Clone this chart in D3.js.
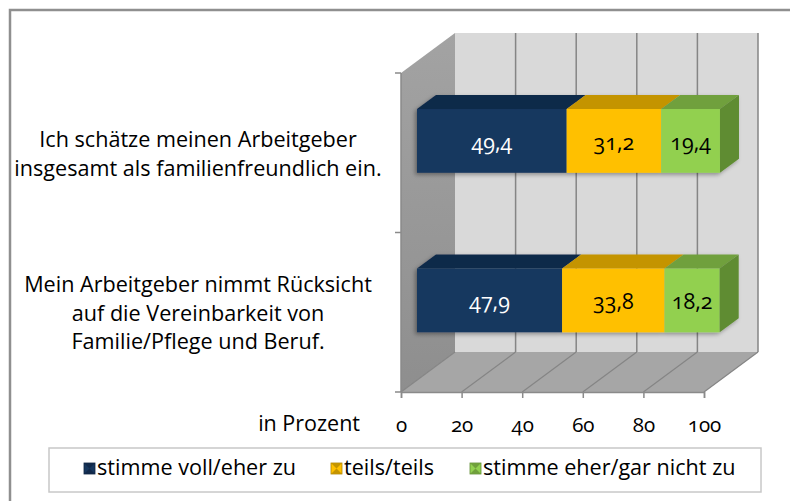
<!DOCTYPE html>
<html>
<head>
<meta charset="utf-8">
<script src="https://cdn.jsdelivr.net/npm/d3@7"></script>
<style>
  body { margin: 0; background: #fff; }
  text { font-family: "Open Sans", Lato, sans-serif; }
  .num { font-family: "Open Sans", Lato, sans-serif; font-feature-settings: "onum" 1; font-variant-numeric: oldstyle-nums; }
</style>
</head>
<body>
<svg id="chart"></svg>
<script>
// Daten
const categories = ["Ich schätze meinen Arbeitgeber insgesamt als familienfreundlich ein.",
  "Mein Arbeitgeber nimmt Rücksicht auf die Vereinbarkeit von Familie/Pflege und Beruf."];
const categoryLines = [
  ["Ich schätze meinen Arbeitgeber", "insgesamt als familienfreundlich ein."],
  ["Mein Arbeitgeber nimmt Rücksicht", "auf die Vereinbarkeit von", "Familie/Pflege und Beruf."]
];
const seriesNames = ["stimme voll/eher zu", "teils/teils", "stimme eher/gar nicht zu"];
const vollEherZu = [49.4, 47.9];
const teilsTeils = [31.2, 33.8];
const eherGarNicht = [19.4, 18.2];
const xTicks = [0, 20, 40, 60, 80, 100];
const axisTitle = "in Prozent";

const width = 790, height = 501;
const svg = d3.select("#chart").attr("width", width).attr("height", height);

// 3D Tiefe (Excel-Stil)
const depth = { dx: 54, dy: -40 };
const barFront = 0.296, barBack = 0.648;
const x = d3.scaleLinear().domain([0, 100]).range([401, 704]);
const y = d3.scaleBand().domain(d3.range(categories.length)).range([73, 392])
  .paddingInner(0.6).paddingOuter(0.3);
const yTop = 73, yBot = 392;
const P = (v, yy, f) => [x(v) + f * depth.dx, yy + f * depth.dy];
const poly = pts => pts.map(p => p.join(",")).join(" ");

// Rahmen
svg.append("rect").attr("x", 10).attr("y", 10).attr("width", 800).attr("height", 520)
  .attr("fill", "#fff").attr("stroke", "#8f8f8f").attr("stroke-width", 2.5);

const defs = svg.append("defs");
const lw = defs.append("linearGradient").attr("id", "leftwall").attr("x1", 0).attr("y1", 0).attr("x2", 0).attr("y2", 1);
lw.append("stop").attr("offset", 0).attr("stop-color", "#a3a3a3");
lw.append("stop").attr("offset", 1).attr("stop-color", "#8e8e8e");
const sh = defs.append("filter").attr("id", "shadow").attr("x", -0.2).attr("y", -0.3).attr("width", 1.4).attr("height", 1.6);
sh.append("feDropShadow").attr("dx", -2).attr("dy", 2).attr("stdDeviation", 2).attr("flood-color", "#000").attr("flood-opacity", 0.35);

const walls = svg.append("g");
// Seitenwand links
walls.append("polygon").attr("points", poly([P(0, yTop, 0), P(0, yTop, 1), P(0, yBot, 1), P(0, yBot, 0)]))
  .attr("fill", "url(#leftwall)");
// Rückwand
walls.append("polygon").attr("points", poly([P(0, yTop, 1), P(100, yTop, 1), P(100, yBot, 1), P(0, yBot, 1)]))
  .attr("fill", "#d9d9d9");
// Boden
walls.append("polygon").attr("points", poly([P(0, yBot, 0), P(100, yBot, 0), P(100, yBot, 1), P(0, yBot, 1)]))
  .attr("fill", "#a6a6a6");

// Gitterlinien
xTicks.forEach(t => {
  if (t > 0) {
    walls.append("line").attr("x1", P(t, yTop, 1)[0]).attr("y1", P(t, yTop, 1)[1])
      .attr("x2", P(t, yBot, 1)[0]).attr("y2", P(t, yBot, 1)[1])
      .attr("stroke", "#858585").attr("stroke-width", 1.5);
  }
  walls.append("line").attr("x1", P(t, yBot, 0)[0]).attr("y1", P(t, yBot, 0)[1])
    .attr("x2", P(t, yBot, 1)[0]).attr("y2", P(t, yBot, 1)[1])
    .attr("stroke", "#858585").attr("stroke-width", 1.2);
});

// Achsen
const xAxis = svg.append("g").attr("transform", `translate(0,${yBot})`)
  .call(d3.axisBottom(x).tickValues(xTicks).tickSize(6).tickPadding(19));
xAxis.select(".domain").attr("stroke", "#8a8a8a").attr("stroke-width", 1.5);
xAxis.selectAll(".tick line").attr("stroke", "#8a8a8a").attr("stroke-width", 1.5);
xAxis.selectAll(".tick text").attr("class", "num").attr("font-size", 20.5).attr("fill", "#000")
  .style("font-family", "'Open Sans', sans-serif");

svg.append("line").attr("x1", x(0)).attr("x2", x(0)).attr("y1", yTop).attr("y2", yBot)
  .attr("stroke", "#8a8a8a").attr("stroke-width", 1.5);
const catTicks = [yTop, ...d3.range(1, categories.length).map(i => y(i) - y.step() * y.paddingInner() / 2), yBot];
svg.selectAll(".ctick").data(catTicks).join("line")
  .attr("x1", x(0) - 6).attr("x2", x(0)).attr("y1", d => d).attr("y2", d => d)
  .attr("stroke", "#8a8a8a").attr("stroke-width", 1.5);

svg.append("text").attr("x", 360).attr("y", 431).attr("text-anchor", "end")
  .attr("font-size", 21.5).text(axisTitle);

// Kategorien-Beschriftung
categoryLines.forEach((lines, i) => {
  const cy = y(i) + y.bandwidth() / 2;
  const lh = 28.5;
  const t = svg.append("text").attr("text-anchor", "middle").attr("font-size", 21.6).attr("fill", "#000");
  lines.forEach((l, j) => {
    t.append("tspan").attr("x", 198).attr("y", cy + 8.5 + (j - (lines.length - 1) / 2) * lh).text(l);
  });
});

// Balken
const series = [
  { name: seriesNames[0], values: vollEherZu, front: "#17375e", top: "#11294a", side: "#0f2440", text: "#fff" },
  { name: seriesNames[1], values: teilsTeils, front: "#ffc000", top: "#c49400", side: "#b08400", text: "#000" },
  { name: seriesNames[2], values: eherGarNicht, front: "#92d050", top: "#70a03c", side: "#5f8c32", text: "#000" }
];
const stacked = d3.stack().keys(d3.range(series.length))
  .value((d, k) => series[k].values[d])(d3.range(categories.length));

const bars = svg.append("g").attr("filter", "url(#shadow)");
categories.forEach((c, i) => {
  const y0 = y(i), y1 = y(i) + y.bandwidth();
  const g = bars.append("g");
  stacked.forEach((layer, k) => {
    const [v0, v1] = layer[i];
    const s = series[k];
    // Oberseite
    g.append("polygon").attr("points", poly([P(v0, y0, barFront), P(v1, y0, barFront), P(v1, y0, barBack), P(v0, y0, barBack)]))
      .attr("fill", s.top);
    // Vorderseite
    const a = P(v0, y0, barFront), b = P(v1, y1, barFront);
    g.append("rect").attr("x", a[0]).attr("y", a[1]).attr("width", b[0] - a[0]).attr("height", b[1] - a[1])
      .attr("fill", s.front);
    if (k === stacked.length - 1) {
      g.append("polygon").attr("points", poly([P(v1, y0, barFront), P(v1, y0, barBack), P(v1, y1, barBack), P(v1, y1, barFront)]))
        .attr("fill", s.side);
    }
  });
});

// Werte
const labels = svg.append("g");
categories.forEach((c, i) => {
  const yc = y(i) + y.bandwidth() / 2 + barFront * depth.dy;
  stacked.forEach((layer, k) => {
    const [v0, v1] = layer[i];
    const xc = (x(v0) + x(v1)) / 2 + barFront * depth.dx;
    labels.append("text").attr("class", "num").attr("x", xc).attr("y", yc + 9)
      .attr("text-anchor", "middle").attr("font-size", 21.5).attr("fill", series[k].text)
      .text(d3.format(".1f")(series[k].values[i]).replace(".", ","));
  });
});

// Legende
const leg = svg.append("g");
leg.append("rect").attr("x", 49).attr("y", 448).attr("width", 712).attr("height", 44)
  .attr("fill", "#fff").attr("stroke", "#c8c8c8").attr("stroke-width", 1.5);
const legX = [84, 331, 470];
series.forEach((s, k) => {
  const gx = legX[k], gy = 463;
  leg.append("rect").attr("x", gx).attr("y", gy).attr("width", 11).attr("height", 11).attr("fill", s.front)
    .attr("stroke", s.side).attr("stroke-width", 0.8);
  leg.append("polygon").attr("points", poly([[gx, gy], [gx + 11, gy], [gx + 5.5, gy + 5.5]])).attr("fill", s.top);
  leg.append("polygon").attr("points", poly([[gx, gy + 11], [gx + 11, gy + 11], [gx + 5.5, gy + 5.5]])).attr("fill", s.top);
  leg.append("text").attr("x", gx + 13).attr("y", gy + 12).attr("font-size", 21.6).attr("fill", "#000").text(s.name);
});
</script>
</body>
</html>
